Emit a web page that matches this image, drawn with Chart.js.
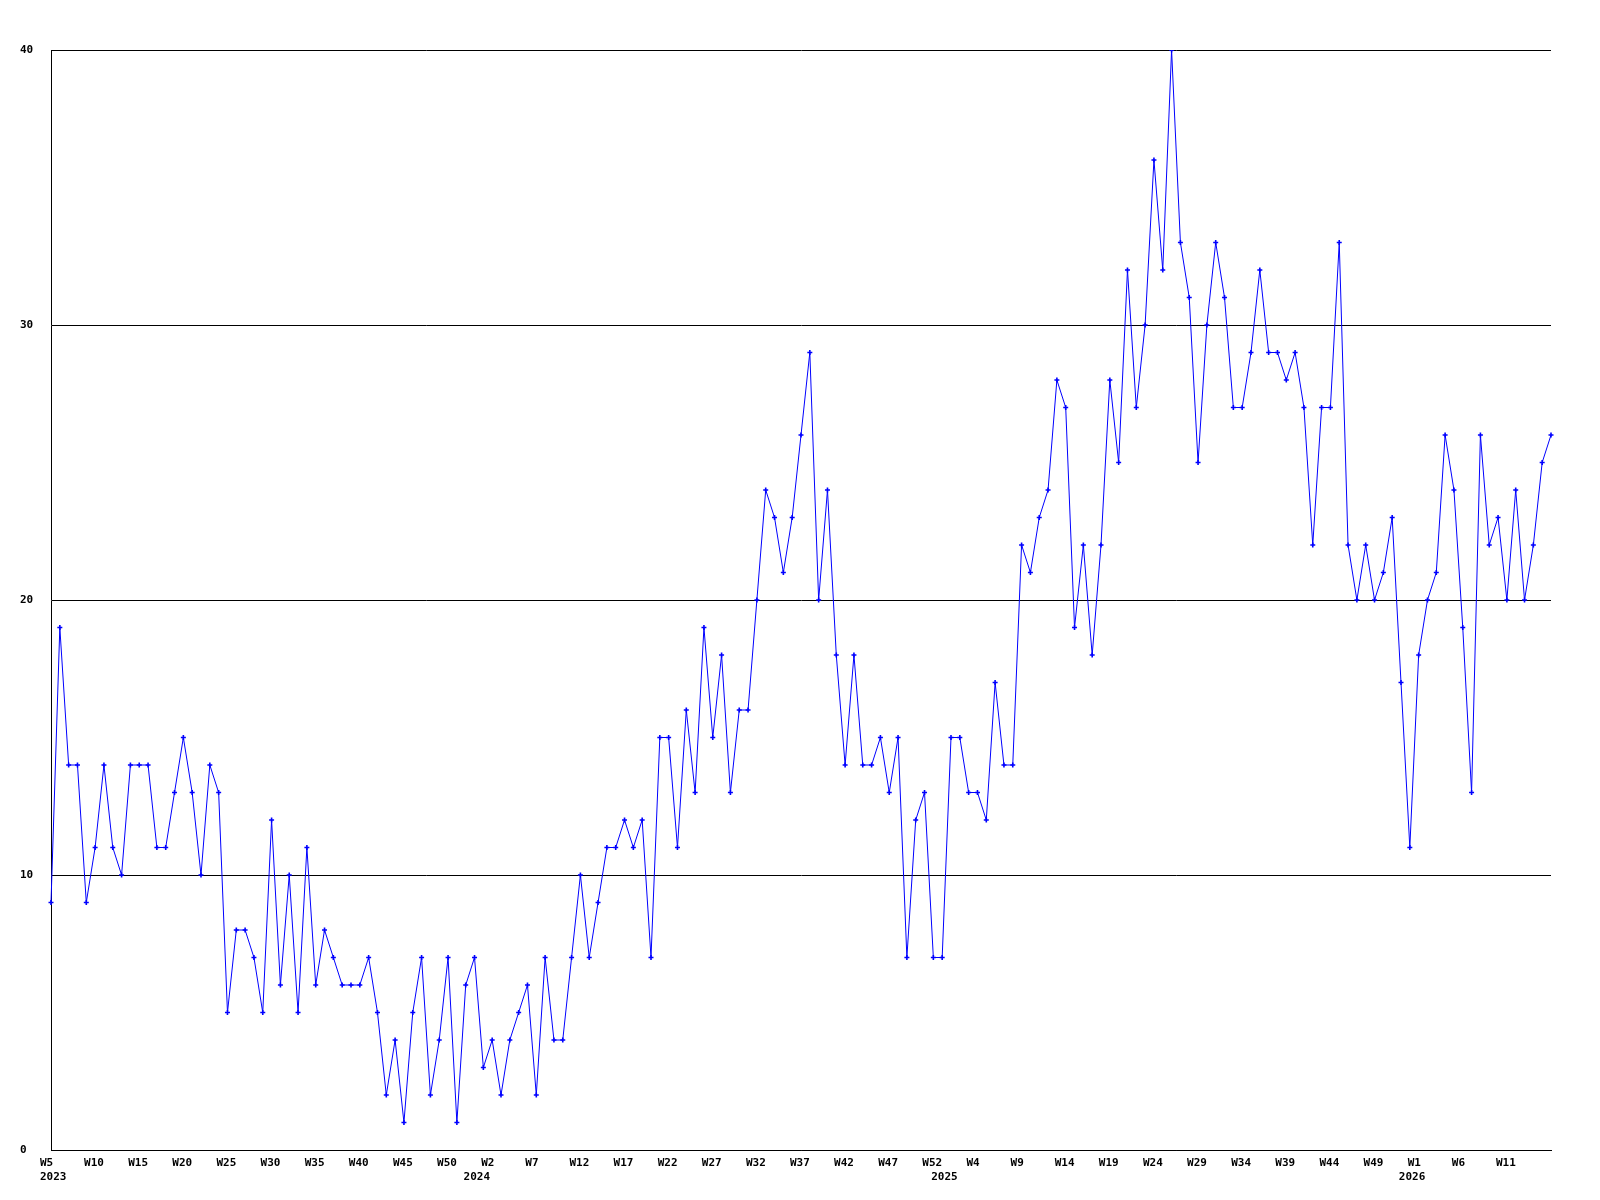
<!DOCTYPE html>
<html>
<head>
<meta charset="utf-8">
<script src="https://cdn.jsdelivr.net/npm/chart.js@4.4.1/dist/chart.umd.min.js"></script>
<style>
  html, body { margin: 0; padding: 0; background: #ffffff; }
  canvas { display: block; }
</style>
</head>
<body>
<canvas id="chart" width="1600" height="1200"></canvas>
<script>
// ---- Data (weekly values, W5 2023 .. W16 2026) ----
const yearWeekRanges = [
  [2023, 5, 53],
  [2024, 1, 53],
  [2025, 1, 53],
  [2026, 1, 16]
];
const values = [
  9,19,14,14,9,11,14,11,10,14,14,14,11,11,13,15,13,10,14,13,5,8,8,7,5,12,6,10,5,
  11,6,8,7,6,6,6,7,5,2,4,1,5,7,2,4,7,1,6,7,3,4,2,4,5,6,2,7,4,
  4,7,10,7,9,11,11,12,11,12,7,15,15,11,16,13,19,15,18,13,16,16,20,24,23,21,23,26,29,20,
  24,18,14,18,14,14,15,13,15,7,12,13,7,7,15,15,13,13,12,17,14,14,22,21,23,24,28,27,19,
  22,18,22,28,25,32,27,30,36,32,40,33,31,25,30,33,31,27,27,29,32,29,29,28,29,27,22,27,27,33,
  22,20,22,20,21,23,17,11,18,20,21,26,24,19,13,26,22,23,20,24,20,22,25,26
];
// tick labels shown on the x axis (every 5th week)
const xWeekTicks = [
  'W5','W10','W15','W20','W25','W30','W35','W40','W45','W50',
  'W2','W7','W12','W17','W22','W27','W32','W37','W42','W47','W52',
  'W4','W9','W14','W19','W24','W29','W34','W39','W44','W49',
  'W1','W6','W11'
];
const xYearTicks = ['2023', '2024', '2025', '2026'];
const xYearTickAt = [0, 48, 101, 154];
const yTicks = [0, 10, 20, 30, 40];

// categories
const categories = [];
for (const [yr, from, to] of yearWeekRanges) {
  for (let w = from; w <= to; w++) categories.push(yr + '-W' + w);
}

const tickFont = { family: '"DejaVu Sans Mono", "Liberation Mono", monospace', size: 11, weight: 'bold', lineHeight: '14px' };

new Chart(document.getElementById('chart'), {
  type: 'line',
  data: {
    labels: categories,
    datasets: [{
      data: values,
      borderColor: '#0000ff',
      backgroundColor: '#0000ff',
      borderWidth: 1,
      tension: 0,
      fill: false,
      pointStyle: 'cross',
      pointRadius: 2.5,
      pointBorderWidth: 1.6,
      pointBorderColor: '#0000ff',
      pointHoverRadius: 2.5
    }]
  },
  options: {
    responsive: false,
    devicePixelRatio: 1,
    animation: false,
    events: [],
    layout: { padding: { left: 20, right: 49, top: 50, bottom: 0 } },
    plugins: { legend: { display: false }, tooltip: { enabled: false }, title: { display: false } },
    scales: {
      x: {
        type: 'category',
        offset: false,
        grid: { display: false, drawTicks: false },
        border: { display: true, color: '#000000', width: 1 },
        ticks: {
          autoSkip: false,
          maxRotation: 0,
          minRotation: 0,
          align: 'start',
          labelOffset: -11,
          padding: 6,
          color: '#000000',
          font: tickFont,
          callback: function (value, index) {
            let top = '';
            let bottom = '';
            if (index % 5 === 0 && index / 5 < xWeekTicks.length) top = xWeekTicks[index / 5];
            const yi = xYearTickAt.indexOf(index);
            if (yi >= 0) bottom = xYearTicks[yi];
            if (bottom) return [top, bottom];
            return top;
          }
        },
        afterFit: function (scale) { scale.height = 50; }
      },
      y: {
        min: yTicks[0],
        max: yTicks[yTicks.length - 1],
        grid: { display: true, color: '#000000', lineWidth: 1, drawTicks: false },
        border: { display: true, color: '#000000', width: 1 },
        ticks: {
          stepSize: 10,
          crossAlign: 'far',
          padding: 0,
          color: '#000000',
          font: tickFont,
          callback: function (v) { return yTicks.includes(v) ? String(v) : ''; }
        },
        afterFit: function (scale) { scale.width = 31; }
      }
    }
  }
});
</script>
</body>
</html>
